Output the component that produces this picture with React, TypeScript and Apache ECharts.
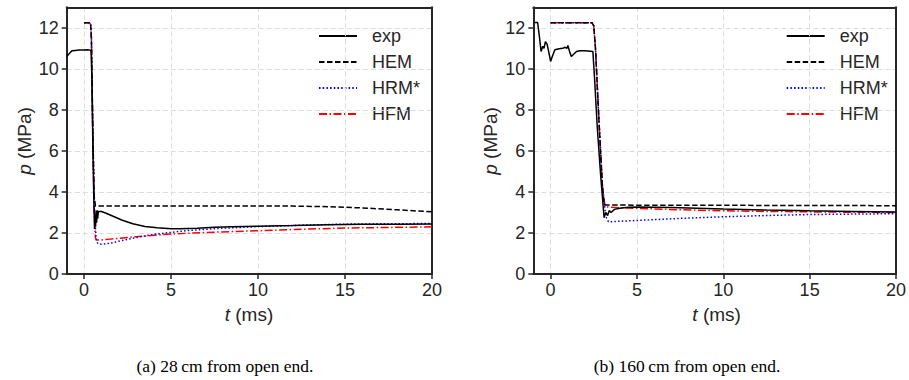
import React, { useEffect, useRef } from 'react';
import * as echarts from 'echarts';

const seriesNames = ['exp', 'HEM', 'HRM*', 'HFM'];
const xTicks = [0, 5, 10, 15, 20];
const yTicks = [0, 2, 4, 6, 8, 10, 12];
const captions = ['(a) 28\u2009cm from open end.', '(b) 160\u2009cm from open end.'];

// Panel (a): 28 cm from open end
const expA_t = [-1.0, -0.85, -0.7, -0.5, -0.3, 0.0, 0.2, 0.4, 0.45, 0.5, 0.55, 0.6, 0.63, 0.66, 0.69, 0.72, 0.75, 0.78, 0.82, 0.9, 1.0, 1.3, 1.7, 2.2, 2.8, 3.5, 4.2, 5.0, 5.5, 6.5, 7.5, 8.5, 10, 12, 14, 16, 18, 20];
const expA_p = [10.6, 10.75, 10.88, 10.9, 10.92, 10.92, 10.93, 10.9, 9.5, 6.5, 4.0, 2.2, 2.9, 2.3, 3.1, 2.5, 3.1, 2.7, 3.05, 3.05, 3.05, 2.95, 2.8, 2.62, 2.45, 2.32, 2.25, 2.2, 2.2, 2.23, 2.28, 2.3, 2.33, 2.36, 2.4, 2.42, 2.43, 2.44];
const hemA_t = [0, 0.3, 0.38, 0.42, 0.5, 0.58, 0.65, 0.7, 5, 10, 12, 14, 16, 18, 20];
const hemA_p = [12.25, 12.25, 12.15, 11.5, 7, 3.8, 3.32, 3.32, 3.32, 3.32, 3.31, 3.28, 3.22, 3.13, 3.03];
const hrmA_t = [0, 0.3, 0.38, 0.42, 0.5, 0.6, 0.7, 0.8, 1.0, 1.5, 2, 3, 4, 5, 6, 7.5, 10, 12.5, 15, 17.5, 20];
const hrmA_p = [12.25, 12.25, 12.15, 11.5, 7, 3, 1.6, 1.48, 1.45, 1.5, 1.6, 1.78, 1.93, 2.03, 2.12, 2.21, 2.31, 2.38, 2.43, 2.45, 2.46];
const hfmA_t = [0, 0.3, 0.38, 0.42, 0.5, 0.58, 0.65, 0.75, 0.9, 1.5, 3, 5, 7.5, 10, 12.5, 15, 17.5, 20];
const hfmA_p = [12.25, 12.25, 12.15, 11.5, 7, 3, 1.75, 1.66, 1.65, 1.7, 1.82, 1.95, 2.04, 2.11, 2.18, 2.24, 2.27, 2.3];

// Panel (b): 160 cm from open end
const expB_t = [-1.0, -0.75, -0.65, -0.55, -0.45, -0.38, -0.3, -0.2, -0.1, 0.0, 0.1, 0.25, 0.5, 0.7, 0.85, 0.95, 1.0, 1.1, 1.2, 1.35, 1.5, 1.7, 2.0, 2.3, 2.45, 2.55, 2.7, 2.9, 3.1, 3.2, 3.3, 3.4, 3.5, 3.7, 4.0, 4.5, 5, 7, 10, 12.5, 15, 17.5, 20];
const expB_p = [12.26, 12.26, 11.6, 10.85, 11.1, 11.0, 11.33, 11.2, 10.8, 10.36, 10.6, 10.93, 10.98, 11.0, 11.05, 11.0, 11.14, 10.85, 10.6, 10.72, 10.85, 10.88, 10.88, 10.86, 10.84, 9.5, 7.2, 4.8, 2.75, 3.0, 2.85, 3.1, 3.0, 3.15, 3.2, 3.25, 3.26, 3.24, 3.17, 3.12, 3.08, 3.05, 3.02];
const hemB_t = [0, 2.4, 2.5, 2.6, 2.8, 3.0, 3.1, 3.2, 20];
const hemB_p = [12.25, 12.25, 12.1, 11.0, 7.5, 4.3, 3.4, 3.36, 3.33];
const hrmB_t = [0, 2.4, 2.5, 2.6, 2.8, 3.0, 3.2, 3.35, 3.6, 4, 5, 7.5, 10, 12.5, 15, 17.5, 20];
const hrmB_p = [12.25, 12.25, 12.1, 11.0, 7.5, 4.3, 2.8, 2.55, 2.55, 2.57, 2.61, 2.71, 2.79, 2.85, 2.9, 2.92, 2.94];
const hfmB_t = [0, 2.4, 2.5, 2.6, 2.8, 3.0, 3.15, 3.3, 4, 5, 7.5, 10, 12.5, 15, 17.5, 20];
const hfmB_p = [12.25, 12.25, 12.1, 11.0, 7.5, 4.3, 3.3, 3.27, 3.23, 3.2, 3.13, 3.08, 3.05, 3.03, 3.01, 3.0];

const zip = (t: number[], p: number[]) => t.map((v, i) => [v, p[i]]);

const FONT = 'Liberation Sans';
const INK = '#262626';

const styles: Record<string, any> = {
  exp: { color: '#000000', width: 1.5, type: 'solid' },
  HEM: { color: '#000000', width: 1.5, type: [5.5, 2.5] },
  'HRM*': { color: '#0000ff', width: 1.5, type: [1.5, 2.2] },
  HFM: { color: '#ff0000', width: 1.5, type: [8, 2.5, 1.5, 2.5] },
};

const gridsPos = [
  { left: 66.7, top: 7.3, width: 365.3, height: 266.7 },
  { left: 533.3, top: 7.3, width: 366.7, height: 266.7 },
];

export default function App() {
  const ref = useRef<HTMLDivElement>(null);
  useEffect(() => {
    if (!ref.current) return;
    const chart = echarts.init(ref.current, null, { renderer: 'svg' });
    const panels = [
      [zip(expA_t, expA_p), zip(hemA_t, hemA_p), zip(hrmA_t, hrmA_p), zip(hfmA_t, hfmA_p)],
      [zip(expB_t, expB_p), zip(hemB_t, hemB_p), zip(hrmB_t, hrmB_p), zip(hfmB_t, hfmB_p)],
    ];
    const series: any[] = [];
    panels.forEach((pan, gi) => {
      pan.forEach((d, si) => {
        const name = seriesNames[si];
        series.push({
          type: 'line',
          name,
          xAxisIndex: gi,
          yAxisIndex: gi,
          data: d,
          symbol: 'none',
          showSymbol: false,
          clip: true,
          z: 10 - si,
          lineStyle: { ...styles[name] },
          itemStyle: { color: styles[name].color },
        });
      });
    });
    const axisLine = { show: true, onZero: false, lineStyle: { color: INK, width: 2 } };
    const splitLine = { show: true, lineStyle: { color: '#dddddd', type: [5, 3], width: 1 } };
    const labelStyle = { color: INK, fontSize: 18, fontFamily: FONT };
    const mainX = gridsPos.map((_, gi) => ({
      gridIndex: gi,
      type: 'value',
      min: -1,
      max: 20,
      splitNumber: 5,
      axisLine,
      axisTick: { show: true, length: 5, inside: false, lineStyle: { color: INK, width: 1.5 }, customValues: xTicks },
      axisLabel: { ...labelStyle, margin: 7, customValues: xTicks },
      splitLine,
      z: 5,
    }));
    const topX = gridsPos.map((_, gi) => ({
      gridIndex: gi,
      type: 'value',
      position: 'top',
      min: -1,
      max: 20,
      axisLine,
      axisTick: { show: false },
      axisLabel: { show: false },
      splitLine: { show: false },
      z: 5,
    }));
    const mainY = gridsPos.map((_, gi) => ({
      gridIndex: gi,
      type: 'value',
      min: 0,
      max: 13,
      interval: 2,
      axisLine,
      axisTick: { show: true, length: 5, inside: false, lineStyle: { color: INK, width: 1.5 }, customValues: yTicks },
      axisLabel: { ...labelStyle, margin: 8, customValues: yTicks },
      splitLine,
      z: 5,
    }));
    const rightY = gridsPos.map((_, gi) => ({
      gridIndex: gi,
      type: 'value',
      position: 'right',
      min: 0,
      max: 13,
      interval: 2,
      axisLine,
      axisTick: { show: false },
      axisLabel: { show: false },
      splitLine: { show: false },
      z: 5,
    }));
    const option: any = {
      animation: false,
      backgroundColor: '#ffffff',
      grid: gridsPos.map((g) => ({ ...g, containLabel: false })),
      xAxis: [...mainX, ...topX],
      yAxis: [...mainY, ...rightY],
      legend: [313, 780.7].map((left) => ({
        left,
        top: 22,
        orient: 'vertical',
        itemWidth: 38,
        itemHeight: 18,
        itemGap: 8,
        data: seriesNames,
        selectedMode: false,
        itemStyle: { opacity: 0, color: 'transparent', borderColor: 'transparent', borderWidth: 0 },
        textStyle: { color: INK, fontSize: 18, fontFamily: FONT, padding: [0, 0, 0, 10] },
      })),
      graphic: [
        ...[24, 490].map((x) => ({
          type: 'text',
          x,
          y: 141,
          rotation: Math.PI / 2,
          style: {
            text: '{i|p} (MPa)',
            rich: { i: { fontStyle: 'italic', fontSize: 19, fontFamily: FONT, fill: INK } },
            fontSize: 19,
            fontFamily: FONT,
            fill: INK,
            align: 'center',
            verticalAlign: 'middle',
          },
        })),
        ...[249, 716.6].map((x) => ({
          type: 'text',
          x,
          y: 314,
          style: {
            text: '{i|t} (ms)',
            rich: { i: { fontStyle: 'italic', fontSize: 19, fontFamily: FONT, fill: INK } },
            fontSize: 19,
            fontFamily: FONT,
            fill: INK,
            align: 'center',
            verticalAlign: 'middle',
          },
        })),
        ...[225, 687].map((x, i) => ({
          type: 'text',
          x,
          y: 366,
          style: {
            text: captions[i],
            fontSize: 17.5,
            fontFamily: 'Liberation Serif',
            fill: '#000000',
            align: 'center',
            verticalAlign: 'middle',
          },
        })),
      ],
      series,
    };
    chart.setOption(option);
    return () => chart.dispose();
  }, []);
  return <div ref={ref} style={{ position: 'fixed', left: 0, top: 0, width: 909, height: 380, background: '#fff' }} />;
}
